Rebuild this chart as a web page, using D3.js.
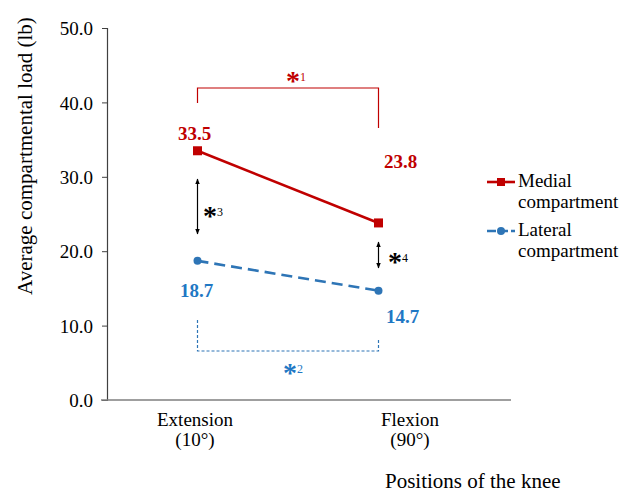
<!DOCTYPE html>
<html>
<head>
<meta charset="utf-8">
<script src="https://cdn.jsdelivr.net/npm/d3@7"></script>
<style>
  html, body { margin: 0; padding: 0; background: #fff; }
  svg { display: block; }
  svg text { font-family: "Liberation Serif", "DejaVu Serif", serif; }
</style>
</head>
<body>
<svg id="chart" width="634" height="495"></svg>
<script>
// Knee positions and the average load on each compartment (lb)
const positions = ["Extension", "Flexion"];
const positionAngles = ["(10°)", "(90°)"];
const medialLoad = [33.5, 23.8];
const lateralLoad = [18.7, 14.7];
const yTicks = [0, 10, 20, 30, 40, 50];

const RED = "#c00000";
const BLUE = "#2e75b6";
const BLUE_TEXT = "#1f78c4";
const FONT = 19;
const TITLE_FONT = 21;
const SERIF = "Liberation Serif";

const svg = d3.select("#chart").attr("font-family", SERIF);

const y = d3.scaleLinear().domain([0, 50]).range([400, 28]);
const x = d3.scalePoint().domain(positions).range([107, 469]).padding(0.5);
const xLabel = d3.scalePoint().domain(positions).range([195, 410]);
const axisLeft = 107, axisRight = 511;

// arrowheads for the significance arrows
const defs = svg.append("defs");
defs.append("marker").attr("id", "arrow").attr("viewBox", "0 0 10 10")
  .attr("refX", 9).attr("refY", 5).attr("markerWidth", 5).attr("markerHeight", 5)
  .attr("orient", "auto-start-reverse")
  .append("path").attr("d", "M0,1 L10,5 L0,9 z").attr("fill", "#000");

// y axis
const yAxis = d3.axisLeft(y).tickValues(yTicks).tickSize(5).tickFormat(d3.format(".1f"));
const gy = svg.append("g").attr("transform", `translate(${axisLeft},0)`).call(yAxis)
  .attr("font-family", SERIF).attr("font-size", FONT);
gy.select(".domain").attr("stroke", "#404040").attr("stroke-width", 1.2);
gy.selectAll(".tick line").attr("stroke", "#404040");
gy.selectAll(".tick text").attr("fill", "#000").attr("dx", -6).attr("dy", "0.35em");

// x axis line
svg.append("line").attr("x1", 101).attr("x2", axisRight)
  .attr("y1", y(0)).attr("y2", y(0)).attr("stroke", "#7f7f7f").attr("stroke-width", 1.5);

// category labels
const cat = svg.append("g").attr("font-size", FONT).attr("text-anchor", "middle");
positions.forEach((p, i) => {
  cat.append("text").attr("x", xLabel(p)).attr("y", 426).text(p);
  cat.append("text").attr("x", xLabel(p)).attr("y", 446).text(positionAngles[i]);
});

// axis titles
svg.append("text").attr("font-size", TITLE_FONT).attr("text-anchor", "middle")
  .attr("transform", `translate(32,156) rotate(-90)`).text("Average compartmental load (lb)");
svg.append("text").attr("font-size", TITLE_FONT).attr("x", 385).attr("y", 488).text("Positions of the knee");

// series lines
const line = (vals) => d3.line().x((d, i) => x(positions[i])).y(d => y(d))(vals);

svg.append("path").attr("d", line(lateralLoad)).attr("fill", "none")
  .attr("stroke", BLUE).attr("stroke-width", 2.6).attr("stroke-dasharray", "11,6");
svg.selectAll(".latpt").data(lateralLoad).join("circle")
  .attr("cx", (d, i) => x(positions[i])).attr("cy", d => y(d)).attr("r", 4).attr("fill", BLUE);

svg.append("path").attr("d", line(medialLoad)).attr("fill", "none")
  .attr("stroke", RED).attr("stroke-width", 2.6);
svg.selectAll(".medpt").data(medialLoad).join("rect")
  .attr("x", (d, i) => x(positions[i]) - 4.5).attr("y", d => y(d) - 4.5)
  .attr("width", 9).attr("height", 9).attr("fill", RED);

// value labels
const fmt = d3.format(".1f");
const vl = svg.append("g").attr("font-size", FONT).attr("font-weight", "bold").attr("text-anchor", "middle");
vl.append("text").attr("x", x(positions[0]) - 3).attr("y", y(medialLoad[0]) - 11).attr("fill", RED).text(fmt(medialLoad[0]));
vl.append("text").attr("x", x(positions[1]) + 22).attr("y", y(medialLoad[1]) - 55).attr("fill", RED).text(fmt(medialLoad[1]));
vl.append("text").attr("x", x(positions[0]) - 1).attr("y", y(lateralLoad[0]) + 36).attr("fill", BLUE_TEXT).text(fmt(lateralLoad[0]));
vl.append("text").attr("x", x(positions[1]) + 24).attr("y", y(lateralLoad[1]) + 32).attr("fill", BLUE_TEXT).text(fmt(lateralLoad[1]));

// significance mark: asterisk with superscript number
function star(xPos, yPos, n, color) {
  const t = svg.append("text").attr("x", xPos).attr("y", yPos).attr("fill", color);
  t.append("tspan").attr("font-size", 28).attr("font-weight", "bold").text("*");
  t.append("tspan").attr("font-size", 12).attr("dy", -9).attr("dx", 0).text(n);
}

// medial: extension vs flexion bracket
const xa = x(positions[0]), xb = x(positions[1]);
svg.append("path").attr("fill", "none").attr("stroke", RED).attr("stroke-width", 1.2)
  .attr("d", `M${xa},103 V88 H${xb} V128`);
star(286, 90, "1", RED);

// lateral: extension vs flexion bracket
svg.append("path").attr("fill", "none").attr("stroke", BLUE).attr("stroke-width", 1.2)
  .attr("stroke-dasharray", "3,2")
  .attr("d", `M${xa},320 V351 H${xb} V338`);
star(283, 382, "2", BLUE_TEXT);

// medial vs lateral arrows
svg.append("line").attr("x1", xa).attr("x2", xa).attr("y1", 179).attr("y2", 234)
  .attr("stroke", "#000").attr("stroke-width", 1.2)
  .attr("marker-start", "url(#arrow)").attr("marker-end", "url(#arrow)");
star(203, 225, "3", "#000");
svg.append("line").attr("x1", xb).attr("x2", xb).attr("y1", 242).attr("y2", 268)
  .attr("stroke", "#000").attr("stroke-width", 1.2)
  .attr("marker-start", "url(#arrow)").attr("marker-end", "url(#arrow)");
star(388, 271, "4", "#000");

// legend
const lg = svg.append("g").attr("font-size", FONT);
lg.append("line").attr("x1", 487).attr("x2", 515).attr("y1", 182).attr("y2", 182).attr("stroke", RED).attr("stroke-width", 2.6);
lg.append("rect").attr("x", 497).attr("y", 178).attr("width", 8).attr("height", 8).attr("fill", RED);
lg.append("text").attr("x", 518).attr("y", 187).text("Medial");
lg.append("text").attr("x", 518).attr("y", 208).text("compartment");
lg.append("line").attr("x1", 487).attr("x2", 515).attr("y1", 231).attr("y2", 231).attr("stroke", BLUE).attr("stroke-width", 2.6).attr("stroke-dasharray", "9,3");
lg.append("circle").attr("cx", 501).attr("cy", 231).attr("r", 4).attr("fill", BLUE);
lg.append("text").attr("x", 518).attr("y", 236).text("Lateral");
lg.append("text").attr("x", 518).attr("y", 257).text("compartment");
</script>
</body>
</html>
